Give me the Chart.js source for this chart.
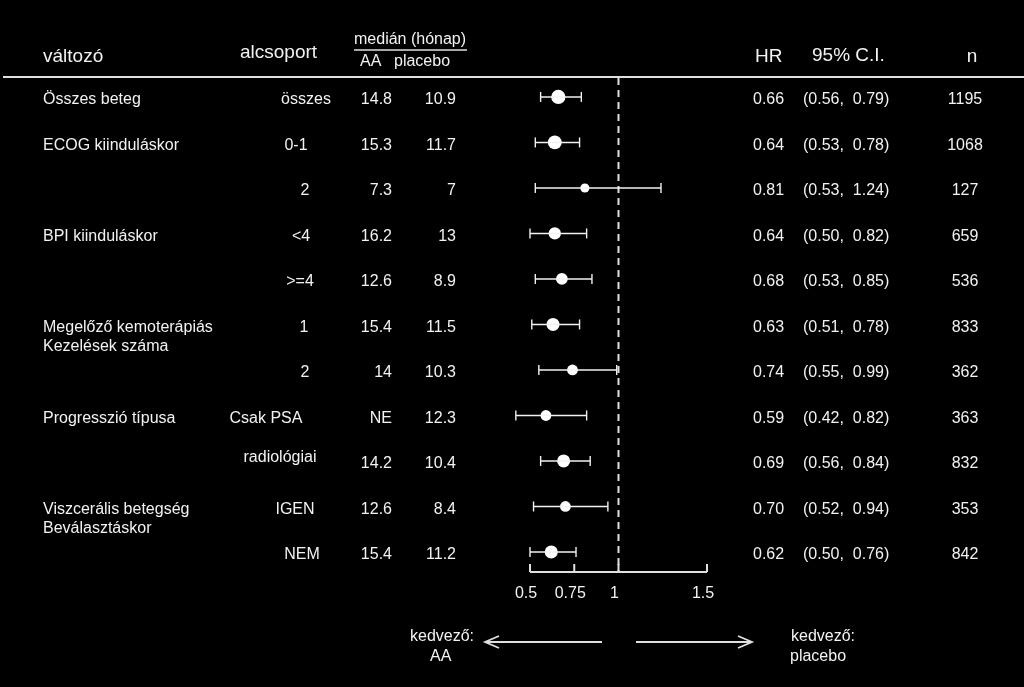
<!DOCTYPE html>
<html>
<head>
<meta charset="utf-8">
<script src="https://cdn.jsdelivr.net/npm/chart.js@4"></script>
<style>
  html, body { margin: 0; padding: 0; background: #000; }
  canvas { display: block; }
</style>
</head>
<body>
<canvas id="forest" width="1024" height="687"></canvas>
<script>
// rows, top to bottom
const variables = [
    ['Összes beteg'], ['ECOG kiinduláskor'], [], ['BPI kiinduláskor'], [],
    ['Megelőző kemoterápiás', 'Kezelések száma'], [], ['Progresszió típusa'], [],
    ['Viszcerális betegség', 'Beválasztáskor'], []
];
const subgroups = ['összes', '0-1', '2', '<4', '>=4', '1', '2', 'Csak PSA', 'radiológiai', 'IGEN', 'NEM'];
const medianAA = ['14.8', '15.3', '7.3', '16.2', '12.6', '15.4', '14', 'NE', '14.2', '12.6', '15.4'];
const medianPlacebo = ['10.9', '11.7', '7', '13', '8.9', '11.5', '10.3', '12.3', '10.4', '8.4', '11.2'];
const hr = [0.66, 0.64, 0.81, 0.64, 0.68, 0.63, 0.74, 0.59, 0.69, 0.70, 0.62];
const ciLow = [0.56, 0.53, 0.53, 0.50, 0.53, 0.51, 0.55, 0.42, 0.56, 0.52, 0.50];
const ciHigh = [0.79, 0.78, 1.24, 0.82, 0.85, 0.78, 0.99, 0.82, 0.84, 0.94, 0.76];
const nPatients = [1195, 1068, 127, 659, 536, 833, 362, 363, 832, 353, 842];
const xTicks = [0.5, 0.75, 1, 1.5];

// subgroup labels are not aligned the same way in every row
const subX = [306, 296, 305, 301, 300, 304, 305, 266, 280, 295, 302];
const subDy = [0, 0, 0, 0, 0, 0, 0, 0, -6, 0, 0];

const FONT = '"Liberation Sans", Arial, sans-serif';
const TEXT = '#f2f2f2';

const datasets = hr.map((v, i) => ({
    type: 'line',
    data: [{ x: ciLow[i], y: i }, { x: ciHigh[i], y: i }],
    borderColor: TEXT,
    borderWidth: 1.6,
    pointStyle: 'line',
    pointRotation: 90,
    pointRadius: 5,
    pointBorderColor: TEXT,
    pointBorderWidth: 1.4,
    clip: false
}));
datasets.push({
    type: 'scatter',
    data: hr.map((v, i) => ({ x: v, y: i })),
    backgroundColor: '#fff',
    borderColor: '#fff',
    borderWidth: 0,
    pointRadius: nPatients.map(n => 3.3 + Math.sqrt(n) / 9),
    clip: false
});

const forestText = {
    id: 'forestText',
    beforeDatasetsDraw(chart) {
        const { ctx, scales: { x, y } } = chart;
        ctx.save();
        ctx.strokeStyle = '#e0e0e0';
        ctx.lineWidth = 2;
        ctx.setLineDash([7, 5]);
        ctx.beginPath();
        ctx.moveTo(x.getPixelForValue(1), y.top + 2);
        ctx.lineTo(x.getPixelForValue(1), y.bottom);
        ctx.stroke();
        ctx.restore();
    },
    afterDraw(chart) {
        const { ctx, scales: { x, y } } = chart;
        ctx.save();
        ctx.fillStyle = TEXT;
        ctx.strokeStyle = '#e0e0e0';
        ctx.textBaseline = 'middle';

        // header
        ctx.font = '19px ' + FONT;
        ctx.textAlign = 'left';
        ctx.fillText('változó', 43, 57);
        ctx.fillText('alcsoport', 240, 53);
        ctx.fillText('HR', 755, 57);
        ctx.fillText('95% C.I.', 812, 56);
        ctx.textAlign = 'center';
        ctx.fillText('n', 972, 57);
        ctx.font = '16px ' + FONT;
        ctx.textAlign = 'left';
        ctx.fillText('medián (hónap)', 354, 40);
        ctx.fillText('AA', 360, 62);
        ctx.fillText('placebo', 394, 62);

        ctx.lineWidth = 1.5;
        ctx.beginPath();
        ctx.moveTo(354, 50);
        ctx.lineTo(467, 50);
        ctx.stroke();
        ctx.lineWidth = 2;
        ctx.beginPath();
        ctx.moveTo(3, 77);
        ctx.lineTo(1024, 77);
        ctx.stroke();

        // rows
        ctx.font = '16px ' + FONT;
        hr.forEach((v, i) => {
            const py = y.getPixelForValue(i) + 3;
            ctx.textAlign = 'left';
            variables[i].forEach((line, k) => ctx.fillText(line, 43, py + k * 19));
            ctx.textAlign = 'center';
            ctx.fillText(subgroups[i], subX[i], py + subDy[i]);
            ctx.textAlign = 'right';
            ctx.fillText(medianAA[i], 392, py);
            ctx.fillText(medianPlacebo[i], 456, py);
            ctx.textAlign = 'left';
            ctx.fillText(v.toFixed(2), 753, py);
            ctx.fillText('(' + ciLow[i].toFixed(2) + ',  ' + ciHigh[i].toFixed(2) + ')', 803, py);
            ctx.textAlign = 'center';
            ctx.fillText(String(nPatients[i]), 965, py);
        });

        // x axis
        const ay = y.bottom;
        ctx.lineWidth = 2;
        ctx.beginPath();
        ctx.moveTo(x.getPixelForValue(xTicks[0]), ay);
        ctx.lineTo(x.getPixelForValue(xTicks[xTicks.length - 1]), ay);
        xTicks.forEach(t => {
            const px = x.getPixelForValue(t);
            ctx.moveTo(px, ay);
            ctx.lineTo(px, ay - 8);
        });
        ctx.stroke();
        ctx.textAlign = 'center';
        xTicks.forEach(t => ctx.fillText(String(t), x.getPixelForValue(t) - 4, 594));

        // direction arrows
        ctx.lineWidth = 1.8;
        ctx.beginPath();
        ctx.moveTo(602, 642); ctx.lineTo(485, 642);
        ctx.moveTo(499, 636); ctx.lineTo(485, 642); ctx.lineTo(499, 648);
        ctx.moveTo(636, 642); ctx.lineTo(752, 642);
        ctx.moveTo(738, 636); ctx.lineTo(752, 642); ctx.lineTo(738, 648);
        ctx.stroke();
        ctx.textAlign = 'left';
        ctx.fillText('kedvező:', 410, 637);
        ctx.fillText('AA', 430, 657);
        ctx.fillText('kedvező:', 791, 637);
        ctx.fillText('placebo', 790, 657);
        ctx.restore();
    }
};

// x from 0.4 so that the 0.42 whisker cap is still inside the plot area
new Chart(document.getElementById('forest').getContext('2d'), {
    type: 'scatter',
    data: { datasets: datasets },
    options: {
        responsive: false,
        animation: false,
        layout: { padding: { left: 512.3, right: 317, top: 76, bottom: 115 } },
        plugins: { legend: { display: false }, tooltip: { enabled: false } },
        scales: {
            x: { type: 'linear', min: 0.4, max: 1.5, display: false },
            y: { type: 'linear', min: -0.46, max: 10.44, reverse: true, display: false }
        }
    },
    plugins: [forestText]
});
</script>
</body>
</html>
